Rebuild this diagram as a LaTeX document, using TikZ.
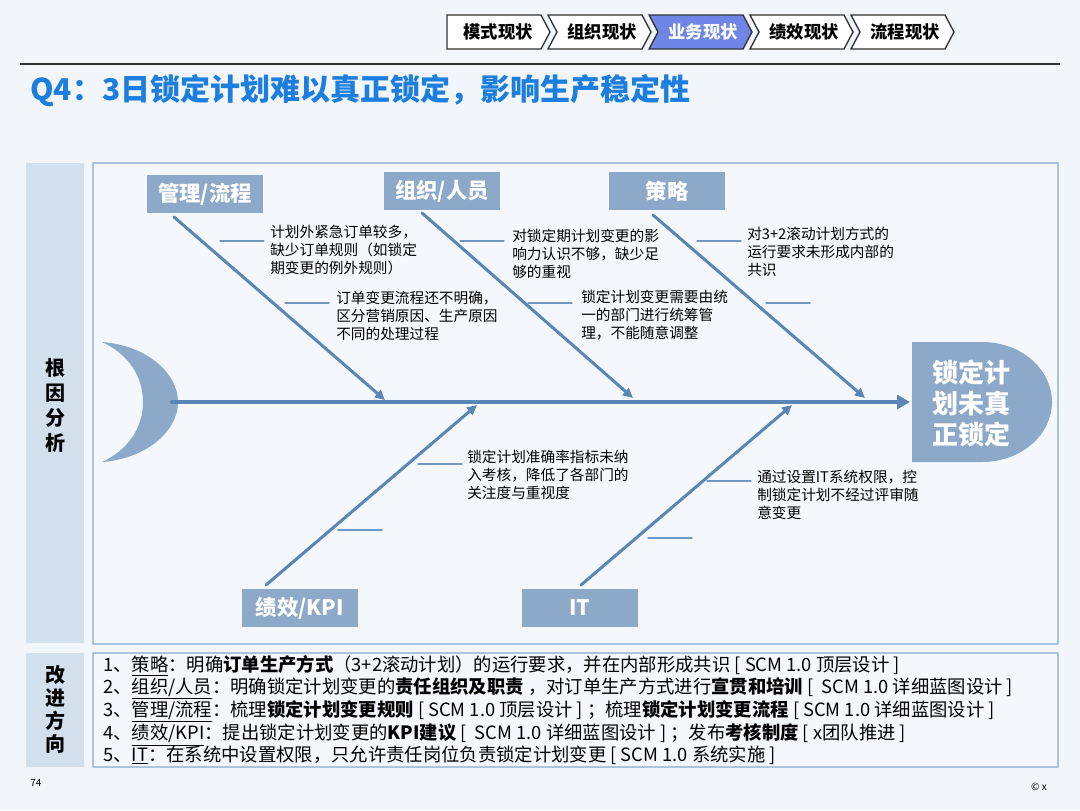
\documentclass[tikz,border=0pt]{standalone}
\usepackage{fontspec}
\setmainfont{Noto Sans CJK SC}
\usetikzlibrary{arrows.meta}
\definecolor{bgc}{HTML}{F2F6FA}
\definecolor{sheetc}{HTML}{F4F8FC}
\definecolor{panelc}{HTML}{D2E0EE}
\definecolor{framec}{HTML}{A9C4DE}
\definecolor{boxc}{HTML}{8CA9C9}
\definecolor{bonec}{HTML}{5A86B6}
\definecolor{tickc}{HTML}{7097C2}
\definecolor{titlec}{HTML}{1C7EDF}
\definecolor{crumbc}{HTML}{6F86E6}
\definecolor{darkc}{HTML}{333333}
\tikzset{
	cat/.style={fill=boxc, text=white, font=\fontsize{16}{18}\selectfont\bfseries, inner sep=0pt, minimum width=87pt, minimum height=28.5pt},
	bone/.style={draw=bonec, line width=2.25pt, -{Triangle[length=7.5pt,width=7pt]}},
	tick/.style={draw=tickc, line width=.8pt},
	note/.style={anchor=west, align=left, inner sep=0pt, font=\fontsize{11}{13.5}\selectfont},
	vlabel/.style={align=center, inner sep=0pt, font=\fontsize{15}{18.75}\selectfont\bfseries},
}
\begin{document}
\begin{tikzpicture}[x=.75pt, y=-.75pt, line join=round, line cap=round]
	\useasboundingbox[fill=bgc] (0,0) rectangle (1080,810);
	% crumbs
	\foreach \t/\f/\c/\n [count=\i from 0] in {模式现状/white/black/0, 组织现状/white/black/9, 业务现状/crumbc/white/9, 绩效现状/white/black/9, 流程现状/white/black/9}{
		\pgfmathsetmacro\xa{447+101*\i}
		\draw[darkc, fill=\f, line width=1pt, line cap=butt, line join=miter] (\xa,15) -- ++(94,0) -- ++(9,17) -- ++(-9,17) -- ++(-94,0) -- ++(\n,-17) -- cycle;
		\node[text=\c, font=\fontsize{13}{15}\selectfont\bfseries] (crumb\i) at (\xa+51+\n/3,32) {\t};
	}
	\draw[darkc, line width=1.8pt, line cap=butt] (20,64) -- (1060,64);
	\node[anchor=west, inner sep=0pt, text=titlec, font=\fontsize{22.5}{26}\selectfont\bfseries] (title) at (30,91) {Q4：3日锁定计划难以真正锁定，影响生产稳定性};
	
	% panels
	\fill[panelc] (26,163) rectangle (84,643) (26,653) rectangle (84,767);
	\draw[framec, fill=sheetc, line width=1pt] (93,163) rectangle (1058,644) (93,653) rectangle (1058,767);
	\node[vlabel] (rootlbl) at (55,405) {根\\因\\分\\析};
	\node[vlabel, font=\fontsize{15}{17.25}\selectfont\bfseries] (fixlbl) at (55,709) {改\\进\\方\\向};
	
	% fish
	\fill[boxc] (102,342) .. controls (145,345) and (178,372) .. (178,402) .. controls (178,432) and (145,459) .. (102,462) .. controls (128,450) and (143,428) .. (143,402) .. controls (143,376) and (128,354) .. (102,342) -- cycle;
	\fill[boxc] (912,342) -- (982,342) .. controls (1022,342) and (1052,370) .. (1052,402) .. controls (1052,434) and (1022,462) .. (982,462) -- (912,462) -- cycle;
	\node[text=white, align=center, inner sep=0pt, font=\fontsize{19.5}{23.25}\selectfont\bfseries] (effect) at (971,403) {锁定计\\划未真\\正锁定};
	
	\node[cat] (mgmt) at (205,194) {管理/流程};
	\node[cat] (org) at (442,191) {组织/人员};
	\node[cat] (strat) at (667,191) {策略};
	\node[cat] (kpi) at (300,608) {绩效/KPI};
	\node[cat] (it) at (580,608) {IT};
	
	\path
	(172,402) coordinate (tail)
	(910,402) coordinate (head)
	(174,217) coordinate (mgmt0) (385,400) coordinate (mgmt1)
	(422,213) coordinate (org0) (633,398) coordinate (org1)
	(653,215) coordinate (strat0) (865,398) coordinate (strat1)
	(266,585) coordinate (kpi0) (477,405) coordinate (kpi1)
	(581,585) coordinate (it0) (792,405) coordinate (it1)
	;
	\draw[draw=bonec, line width=3pt, -{Triangle[length=9.75pt,width=10.5pt]}] (tail) -- (head);
	\foreach \b in {mgmt,org,strat,kpi,it}
	\draw[bone] (\b0) -- (\b1);
	\foreach \x/\y in {220/241, 285/303, 460/241, 528/303, 697/241, 766/303, 418/464, 338/530, 707/481, 648/538}
	\draw[tick] (\x,\y) -- ++(44,0);
	
	\node[note] (mgmtA) at (270,250) {计划外紧急订单较多，\\缺少订单规则（如锁定\\期变更的例外规则）};
	\node[note] (mgmtB) at (336,316) {订单变更流程还不明确，\\区分营销原因、生产原因\\不同的处理过程};
	\node[note] (orgA) at (512,254) {对锁定期计划变更的影\\响力认识不够，缺少足\\够的重视};
	\node[note] (orgB) at (581,315) {锁定计划变更需要由统\\一的部门进行统筹管\\理，不能随意调整};
	\node[note] (stratA) at (747,252) {对3+2滚动计划方式的\\运行要求未形成内部的\\共识};
	\node[note] (kpiA) at (467,475) {锁定计划准确率指标未纳\\入考核，降低了各部门的\\关注度与重视度};
	\node[note] (itA) at (757,495) {通过设置IT系统权限，控\\制锁定计划不经过评审随\\意变更};
	
	% actions
	\node[anchor=west, align=left, inner sep=0pt, font=\fontsize{13.75}{16.3}\selectfont] (actions) at (103,710) {%
		1、\underline{策略}：明确\textbf{订单生产方式}（3+2滚动计划）的运行要求，并在内部形成共识 [ SCM 1.0 顶层设计 ]\\
		2、\underline{组织/人员}：明确锁定计划变更的\textbf{责任组织及职责} ，对订单生产方式进行\textbf{宣贯和培训} [~ SCM 1.0 详细蓝图设计 ]\\
		3、\underline{管理/流程}：梳理\textbf{锁定计划变更规则} [ SCM 1.0 顶层设计 ] ；梳理\textbf{锁定计划变更流程} [ SCM 1.0 详细蓝图设计 ]\\
		4、\underline{绩效/KPI}：提出锁定计划变更的\textbf{KPI建议} [~ SCM 1.0 详细蓝图设计 ] ；发布\textbf{考核制度} [ x团队推进 ]\\
		5、\underline{IT}：在系统中设置权限，只允许责任岗位负责锁定计划变更 [ SCM 1.0 系统实施 ]};
	\node[anchor=west, inner sep=0pt, font=\fontsize{7.5}{9}\selectfont] (pagenum) at (30,783) {74};
	\node[anchor=east, inner sep=0pt, font=\fontsize{7.5}{9}\selectfont] (copy) at (1047,787) {© x};
\end{tikzpicture}
\end{document}
